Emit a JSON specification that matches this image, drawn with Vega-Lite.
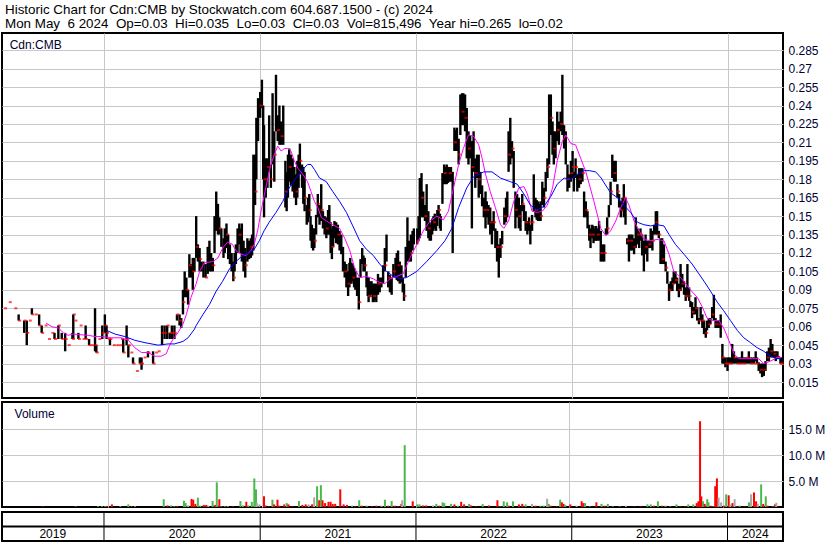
{
"$schema":"https://vega.github.io/schema/vega-lite/v6.json",
"padding":{"top":2,"left":0,"right":0,"bottom":0},
"background":"white",
"title":{"text":["Historic Chart for Cdn:CMB by Stockwatch.com 604.687.1500 - (c) 2024","Mon May\u00a0 6 2024\u00a0 Op=0.03\u00a0 Hi=0.035\u00a0 Lo=0.03\u00a0 Cl=0.03\u00a0 Vol=815,496\u00a0 Year hi=0.265\u00a0 lo=0.02"],"anchor":"start","frame":"group","font":"Liberation Sans","fontSize":13.4,"fontWeight":"normal","color":"#000000","lineHeight":14,"offset":2,"dx":3},
"spacing":2,
"vconcat":[
{
"width":781,"height":365,
"layer":[
{"data":{"format":{"parse":{"d":"date:'%Y-%j'"}},"values":[
{"d":"2019-133","lo":0.075,"hi":0.075,"c":0.075},{"d":"2019-144","lo":0.080,"hi":0.080,"c":0.080},{"d":"2019-157","lo":0.075,"hi":0.075,"c":0.075},{"d":"2019-166","lo":0.065,"hi":0.070,"c":0.065},{"d":"2019-179","lo":0.055,"hi":0.065,"c":0.065},{"d":"2019-185","lo":0.045,"hi":0.065,"c":0.055},{"d":"2019-191","lo":0.065,"hi":0.065,"c":0.065},{"d":"2019-197","lo":0.070,"hi":0.075,"c":0.070},{"d":"2019-205","lo":0.070,"hi":0.070,"c":0.070},{"d":"2019-214","lo":0.061,"hi":0.070,"c":0.061},{"d":"2019-220","lo":0.055,"hi":0.061,"c":0.055},{"d":"2019-228","lo":0.061,"hi":0.061,"c":0.061},{"d":"2019-236","lo":0.050,"hi":0.050,"c":0.050},{"d":"2019-244","lo":0.055,"hi":0.055,"c":0.055},{"d":"2019-250","lo":0.050,"hi":0.055,"c":0.050},{"d":"2019-259","lo":0.050,"hi":0.061,"c":0.061},{"d":"2019-267","lo":0.050,"hi":0.055,"c":0.050},{"d":"2019-275","lo":0.040,"hi":0.055,"c":0.050},{"d":"2019-282","lo":0.045,"hi":0.045,"c":0.045},{"d":"2019-292","lo":0.050,"hi":0.055,"c":0.050},{"d":"2019-294","lo":0.050,"hi":0.070,"c":0.070},{"d":"2019-298","lo":0.065,"hi":0.065,"c":0.065},{"d":"2019-306","lo":0.050,"hi":0.055,"c":0.050},{"d":"2019-310","lo":0.061,"hi":0.061,"c":0.061},{"d":"2019-317","lo":0.050,"hi":0.050,"c":0.050},{"d":"2019-323","lo":0.050,"hi":0.061,"c":0.050},{"d":"2019-331","lo":0.045,"hi":0.050,"c":0.045},{"d":"2019-337","lo":0.045,"hi":0.045,"c":0.045},{"d":"2019-345","lo":0.040,"hi":0.075,"c":0.045},{"d":"2019-348","lo":0.039,"hi":0.045,"c":0.039},{"d":"2019-354","lo":0.050,"hi":0.050,"c":0.050},{"d":"2019-362","lo":0.050,"hi":0.061,"c":0.055},
{"d":"2020-003","lo":0.055,"hi":0.070,"c":0.061},{"d":"2020-007","lo":0.050,"hi":0.061,"c":0.055},{"d":"2020-011","lo":0.050,"hi":0.050,"c":0.050},{"d":"2020-015","lo":0.045,"hi":0.050,"c":0.050},{"d":"2020-023","lo":0.045,"hi":0.045,"c":0.045},{"d":"2020-031","lo":0.045,"hi":0.045,"c":0.045},{"d":"2020-038","lo":0.045,"hi":0.045,"c":0.045},{"d":"2020-042","lo":0.050,"hi":0.050,"c":0.050},{"d":"2020-046","lo":0.039,"hi":0.050,"c":0.039},{"d":"2020-054","lo":0.045,"hi":0.061,"c":0.050},{"d":"2020-058","lo":0.035,"hi":0.045,"c":0.045},{"d":"2020-064","lo":0.039,"hi":0.039,"c":0.039},{"d":"2020-069","lo":0.030,"hi":0.035,"c":0.030},{"d":"2020-077","lo":0.024,"hi":0.024,"c":0.024},{"d":"2020-085","lo":0.030,"hi":0.035,"c":0.030},{"d":"2020-089","lo":0.025,"hi":0.035,"c":0.030},{"d":"2020-095","lo":0.035,"hi":0.035,"c":0.035},{"d":"2020-104","lo":0.035,"hi":0.040,"c":0.039},{"d":"2020-116","lo":0.030,"hi":0.040,"c":0.030},{"d":"2020-122","lo":0.039,"hi":0.039,"c":0.039},{"d":"2020-128","lo":0.040,"hi":0.040,"c":0.040},{"d":"2020-137","lo":0.045,"hi":0.061,"c":0.055},{"d":"2020-143","lo":0.050,"hi":0.061,"c":0.055},{"d":"2020-149","lo":0.050,"hi":0.061,"c":0.061},{"d":"2020-155","lo":0.050,"hi":0.055,"c":0.055},{"d":"2020-160","lo":0.050,"hi":0.061,"c":0.055},{"d":"2020-166","lo":0.050,"hi":0.061,"c":0.055},{"d":"2020-172","lo":0.065,"hi":0.070,"c":0.070},{"d":"2020-178","lo":0.061,"hi":0.070,"c":0.065},{"d":"2020-182","lo":0.059,"hi":0.067},{"d":"2020-186","lo":0.070,"hi":0.090,"c":0.080},{"d":"2020-190","lo":0.084,"hi":0.105},{"d":"2020-194","lo":0.084,"hi":0.100,"c":0.090},{"d":"2020-198","lo":0.078,"hi":0.090},{"d":"2020-201","lo":0.100,"hi":0.119,"c":0.110},{"d":"2020-205","lo":0.100,"hi":0.111},{"d":"2020-209","lo":0.090,"hi":0.116,"c":0.105},{"d":"2020-213","lo":0.105,"hi":0.116},{"d":"2020-217","lo":0.116,"hi":0.150,"c":0.125},{"d":"2020-221","lo":0.113,"hi":0.127},{"d":"2020-225","lo":0.105,"hi":0.124,"c":0.115},{"d":"2020-229","lo":0.105,"hi":0.113},{"d":"2020-234","lo":0.100,"hi":0.113},{"d":"2020-239","lo":0.100,"hi":0.111,"c":0.100},{"d":"2020-244","lo":0.103,"hi":0.125},{"d":"2020-248","lo":0.105,"hi":0.130},{"d":"2020-252","lo":0.105,"hi":0.120},{"d":"2020-256","lo":0.105,"hi":0.116,"c":0.110},{"d":"2020-260","lo":0.120,"hi":0.150},{"d":"2020-264","lo":0.138,"hi":0.170},{"d":"2020-268","lo":0.135,"hi":0.160},{"d":"2020-271","lo":0.135,"hi":0.149,"c":0.140},{"d":"2020-276","lo":0.125,"hi":0.140},{"d":"2020-281","lo":0.116,"hi":0.132},{"d":"2020-284","lo":0.120,"hi":0.140},{"d":"2020-288","lo":0.124,"hi":0.144,"c":0.135},{"d":"2020-292","lo":0.115,"hi":0.135},{"d":"2020-296","lo":0.111,"hi":0.127},{"d":"2020-300","lo":0.105,"hi":0.120},{"d":"2020-304","lo":0.097,"hi":0.113,"c":0.100},{"d":"2020-307","lo":0.105,"hi":0.120},{"d":"2020-310","lo":0.111,"hi":0.127},{"d":"2020-314","lo":0.120,"hi":0.140},{"d":"2020-318","lo":0.127,"hi":0.144,"c":0.135},{"d":"2020-321","lo":0.120,"hi":0.140},{"d":"2020-324","lo":0.113,"hi":0.144},{"d":"2020-328","lo":0.105,"hi":0.130},{"d":"2020-332","lo":0.100,"hi":0.124,"c":0.110},{"d":"2020-337","lo":0.113,"hi":0.132},{"d":"2020-341","lo":0.115,"hi":0.130},{"d":"2020-345","lo":0.116,"hi":0.132,"c":0.125},{"d":"2020-348","lo":0.118,"hi":0.135},{"d":"2020-351","lo":0.122,"hi":0.200},{"d":"2020-355","lo":0.159,"hi":0.200,"c":0.170},{"d":"2020-358","lo":0.180,"hi":0.230},{"d":"2020-362","lo":0.211,"hi":0.246},
{"d":"2021-001","lo":0.230,"hi":0.251,"c":0.240},{"d":"2021-005","lo":0.238,"hi":0.261},{"d":"2021-008","lo":0.180,"hi":0.240},{"d":"2021-010","lo":0.149,"hi":0.224,"c":0.180},{"d":"2021-014","lo":0.165,"hi":0.197},{"d":"2021-018","lo":0.173,"hi":0.197,"c":0.190},{"d":"2021-022","lo":0.186,"hi":0.232},{"d":"2021-026","lo":0.173,"hi":0.192,"c":0.180},{"d":"2021-030","lo":0.192,"hi":0.250},{"d":"2021-034","lo":0.178,"hi":0.219,"c":0.200},{"d":"2021-038","lo":0.219,"hi":0.265},{"d":"2021-042","lo":0.211,"hi":0.232,"c":0.220},{"d":"2021-046","lo":0.208,"hi":0.240},{"d":"2021-050","lo":0.208,"hi":0.227,"c":0.215},{"d":"2021-055","lo":0.208,"hi":0.240},{"d":"2021-060","lo":0.157,"hi":0.195,"c":0.170},{"d":"2021-063","lo":0.154,"hi":0.186},{"d":"2021-066","lo":0.165,"hi":0.200},{"d":"2021-069","lo":0.178,"hi":0.205,"c":0.190},{"d":"2021-073","lo":0.175,"hi":0.200},{"d":"2021-077","lo":0.170,"hi":0.197},{"d":"2021-081","lo":0.165,"hi":0.190},{"d":"2021-085","lo":0.159,"hi":0.184,"c":0.170},{"d":"2021-088","lo":0.165,"hi":0.195},{"d":"2021-091","lo":0.173,"hi":0.200},{"d":"2021-094","lo":0.184,"hi":0.209,"c":0.195},{"d":"2021-099","lo":0.173,"hi":0.192},{"d":"2021-102","lo":0.160,"hi":0.190},{"d":"2021-105","lo":0.154,"hi":0.186,"c":0.165},{"d":"2021-110","lo":0.143,"hi":0.159},{"d":"2021-113","lo":0.145,"hi":0.165},{"d":"2021-116","lo":0.149,"hi":0.168,"c":0.155},{"d":"2021-119","lo":0.130,"hi":0.150},{"d":"2021-122","lo":0.124,"hi":0.143},{"d":"2021-125","lo":0.122,"hi":0.140},{"d":"2021-128","lo":0.124,"hi":0.140,"c":0.130},{"d":"2021-132","lo":0.135,"hi":0.151},{"d":"2021-136","lo":0.149,"hi":0.168,"c":0.160},{"d":"2021-140","lo":0.143,"hi":0.159},{"d":"2021-144","lo":0.146,"hi":0.176,"c":0.155},{"d":"2021-148","lo":0.140,"hi":0.154},{"d":"2021-152","lo":0.135,"hi":0.150},{"d":"2021-156","lo":0.132,"hi":0.149,"c":0.140},{"d":"2021-160","lo":0.135,"hi":0.155},{"d":"2021-163","lo":0.135,"hi":0.159},{"d":"2021-166","lo":0.120,"hi":0.145},{"d":"2021-169","lo":0.115,"hi":0.140,"c":0.125},{"d":"2021-172","lo":0.125,"hi":0.142},{"d":"2021-175","lo":0.132,"hi":0.146},{"d":"2021-179","lo":0.128,"hi":0.145},{"d":"2021-183","lo":0.127,"hi":0.143,"c":0.135},{"d":"2021-187","lo":0.122,"hi":0.138},{"d":"2021-191","lo":0.119,"hi":0.135},{"d":"2021-195","lo":0.105,"hi":0.125},{"d":"2021-199","lo":0.100,"hi":0.113,"c":0.105},{"d":"2021-203","lo":0.092,"hi":0.111},{"d":"2021-207","lo":0.085,"hi":0.105,"c":0.095},{"d":"2021-210","lo":0.092,"hi":0.112},{"d":"2021-212","lo":0.095,"hi":0.116},{"d":"2021-215","lo":0.095,"hi":0.112},{"d":"2021-218","lo":0.097,"hi":0.111,"c":0.100},{"d":"2021-221","lo":0.092,"hi":0.108},{"d":"2021-224","lo":0.090,"hi":0.105},{"d":"2021-228","lo":0.085,"hi":0.100},{"d":"2021-232","lo":0.074,"hi":0.100,"c":0.080},{"d":"2021-236","lo":0.100,"hi":0.115},{"d":"2021-240","lo":0.111,"hi":0.124},{"d":"2021-243","lo":0.105,"hi":0.118},{"d":"2021-246","lo":0.105,"hi":0.116,"c":0.110},{"d":"2021-250","lo":0.092,"hi":0.105},{"d":"2021-253","lo":0.085,"hi":0.100},{"d":"2021-255","lo":0.080,"hi":0.100,"c":0.085},{"d":"2021-259","lo":0.084,"hi":0.097},{"d":"2021-262","lo":0.086,"hi":0.097},{"d":"2021-265","lo":0.080,"hi":0.095},{"d":"2021-267","lo":0.080,"hi":0.095,"c":0.085},{"d":"2021-270","lo":0.082,"hi":0.095},{"d":"2021-273","lo":0.080,"hi":0.095},{"d":"2021-277","lo":0.086,"hi":0.103,"c":0.095},{"d":"2021-281","lo":0.088,"hi":0.100},{"d":"2021-285","lo":0.092,"hi":0.100},{"d":"2021-289","lo":0.095,"hi":0.110},{"d":"2021-293","lo":0.105,"hi":0.124,"c":0.110},{"d":"2021-297","lo":0.113,"hi":0.135},{"d":"2021-301","lo":0.092,"hi":0.105,"c":0.100},{"d":"2021-305","lo":0.088,"hi":0.102},{"d":"2021-309","lo":0.086,"hi":0.100},{"d":"2021-313","lo":0.100,"hi":0.111,"c":0.105},{"d":"2021-318","lo":0.100,"hi":0.116},{"d":"2021-321","lo":0.098,"hi":0.120},{"d":"2021-324","lo":0.097,"hi":0.122,"c":0.110},{"d":"2021-328","lo":0.095,"hi":0.113},{"d":"2021-332","lo":0.096,"hi":0.110},{"d":"2021-335","lo":0.088,"hi":0.100},{"d":"2021-338","lo":0.081,"hi":0.095,"c":0.085},{"d":"2021-342","lo":0.100,"hi":0.125},{"d":"2021-346","lo":0.113,"hi":0.149},{"d":"2021-350","lo":0.113,"hi":0.130},{"d":"2021-354","lo":0.113,"hi":0.135,"c":0.120},{"d":"2021-358","lo":0.122,"hi":0.138},{"d":"2021-361","lo":0.127,"hi":0.140},
{"d":"2022-004","lo":0.127,"hi":0.140,"c":0.130},{"d":"2022-007","lo":0.130,"hi":0.150},{"d":"2022-010","lo":0.132,"hi":0.181},{"d":"2022-014","lo":0.149,"hi":0.185,"c":0.165},{"d":"2022-018","lo":0.149,"hi":0.170},{"d":"2022-022","lo":0.146,"hi":0.159,"c":0.150},{"d":"2022-026","lo":0.138,"hi":0.176},{"d":"2022-030","lo":0.132,"hi":0.154,"c":0.140},{"d":"2022-033","lo":0.130,"hi":0.145},{"d":"2022-036","lo":0.130,"hi":0.143},{"d":"2022-039","lo":0.135,"hi":0.148},{"d":"2022-042","lo":0.138,"hi":0.150,"c":0.145},{"d":"2022-045","lo":0.140,"hi":0.152},{"d":"2022-048","lo":0.138,"hi":0.150},{"d":"2022-051","lo":0.142,"hi":0.155},{"d":"2022-054","lo":0.149,"hi":0.159,"c":0.155},{"d":"2022-057","lo":0.140,"hi":0.152},{"d":"2022-059","lo":0.138,"hi":0.150},{"d":"2022-063","lo":0.160,"hi":0.185},{"d":"2022-067","lo":0.176,"hi":0.192,"c":0.185},{"d":"2022-070","lo":0.176,"hi":0.190},{"d":"2022-073","lo":0.176,"hi":0.192},{"d":"2022-076","lo":0.177,"hi":0.190},{"d":"2022-079","lo":0.178,"hi":0.190,"c":0.185},{"d":"2022-083","lo":0.178,"hi":0.190},{"d":"2022-087","lo":0.120,"hi":0.186},{"d":"2022-091","lo":0.203,"hi":0.222,"c":0.210},{"d":"2022-094","lo":0.203,"hi":0.220},{"d":"2022-097","lo":0.203,"hi":0.222},{"d":"2022-101","lo":0.192,"hi":0.213,"c":0.200},{"d":"2022-105","lo":0.216,"hi":0.249},{"d":"2022-109","lo":0.224,"hi":0.250,"c":0.235},{"d":"2022-112","lo":0.224,"hi":0.250},{"d":"2022-116","lo":0.219,"hi":0.249,"c":0.230},{"d":"2022-120","lo":0.197,"hi":0.238},{"d":"2022-124","lo":0.192,"hi":0.219,"c":0.205},{"d":"2022-128","lo":0.197,"hi":0.216},{"d":"2022-132","lo":0.140,"hi":0.211,"c":0.190},{"d":"2022-136","lo":0.186,"hi":0.219},{"d":"2022-140","lo":0.173,"hi":0.197,"c":0.185},{"d":"2022-144","lo":0.181,"hi":0.200},{"d":"2022-148","lo":0.165,"hi":0.200,"c":0.180},{"d":"2022-152","lo":0.168,"hi":0.186},{"d":"2022-156","lo":0.158,"hi":0.175},{"d":"2022-160","lo":0.149,"hi":0.165,"c":0.155},{"d":"2022-164","lo":0.140,"hi":0.170},{"d":"2022-167","lo":0.149,"hi":0.162,"c":0.155},{"d":"2022-171","lo":0.143,"hi":0.159},{"d":"2022-175","lo":0.135,"hi":0.157,"c":0.145},{"d":"2022-179","lo":0.127,"hi":0.146},{"d":"2022-183","lo":0.138,"hi":0.154,"c":0.145},{"d":"2022-187","lo":0.124,"hi":0.140},{"d":"2022-191","lo":0.113,"hi":0.138,"c":0.125},{"d":"2022-195","lo":0.100,"hi":0.127},{"d":"2022-199","lo":0.116,"hi":0.132,"c":0.125},{"d":"2022-203","lo":0.127,"hi":0.138},{"d":"2022-208","lo":0.143,"hi":0.157,"c":0.150},{"d":"2022-212","lo":0.145,"hi":0.165},{"d":"2022-215","lo":0.149,"hi":0.170},{"d":"2022-218","lo":0.186,"hi":0.219,"c":0.200},{"d":"2022-222","lo":0.192,"hi":0.230},{"d":"2022-226","lo":0.197,"hi":0.211,"c":0.205},{"d":"2022-230","lo":0.173,"hi":0.203},{"d":"2022-234","lo":0.140,"hi":0.170,"c":0.155},{"d":"2022-238","lo":0.149,"hi":0.168},{"d":"2022-242","lo":0.140,"hi":0.165,"c":0.150},{"d":"2022-246","lo":0.138,"hi":0.159},{"d":"2022-250","lo":0.154,"hi":0.168,"c":0.160},{"d":"2022-254","lo":0.146,"hi":0.159},{"d":"2022-258","lo":0.138,"hi":0.154,"c":0.145},{"d":"2022-262","lo":0.135,"hi":0.146},{"d":"2022-266","lo":0.138,"hi":0.149,"c":0.145},{"d":"2022-269","lo":0.127,"hi":0.143},{"d":"2022-273","lo":0.138,"hi":0.151,"c":0.145},{"d":"2022-277","lo":0.154,"hi":0.184},{"d":"2022-281","lo":0.149,"hi":0.165,"c":0.155},{"d":"2022-284","lo":0.147,"hi":0.163},{"d":"2022-287","lo":0.146,"hi":0.162},{"d":"2022-290","lo":0.146,"hi":0.160},{"d":"2022-293","lo":0.146,"hi":0.162,"c":0.150},{"d":"2022-297","lo":0.159,"hi":0.178},{"d":"2022-301","lo":0.157,"hi":0.173,"c":0.165},{"d":"2022-305","lo":0.170,"hi":0.186},{"d":"2022-309","lo":0.181,"hi":0.197,"c":0.190},{"d":"2022-313","lo":0.192,"hi":0.249},{"d":"2022-317","lo":0.216,"hi":0.249,"c":0.230},{"d":"2022-321","lo":0.200,"hi":0.227},{"d":"2022-324","lo":0.192,"hi":0.219,"c":0.205},{"d":"2022-328","lo":0.197,"hi":0.219},{"d":"2022-332","lo":0.211,"hi":0.235,"c":0.220},{"d":"2022-336","lo":0.208,"hi":0.227},{"d":"2022-340","lo":0.219,"hi":0.235,"c":0.225},{"d":"2022-344","lo":0.216,"hi":0.265},{"d":"2022-348","lo":0.205,"hi":0.224,"c":0.215},{"d":"2022-352","lo":0.192,"hi":0.219},{"d":"2022-356","lo":0.170,"hi":0.192,"c":0.180},{"d":"2022-360","lo":0.173,"hi":0.184},{"d":"2022-364","lo":0.178,"hi":0.195,"c":0.185},
{"d":"2023-003","lo":0.181,"hi":0.203,"c":0.190},{"d":"2023-006","lo":0.170,"hi":0.186},{"d":"2023-010","lo":0.181,"hi":0.197,"c":0.190},{"d":"2023-014","lo":0.170,"hi":0.184},{"d":"2023-018","lo":0.173,"hi":0.189,"c":0.180},{"d":"2023-022","lo":0.176,"hi":0.189},{"d":"2023-026","lo":0.178,"hi":0.189,"c":0.185},{"d":"2023-030","lo":0.149,"hi":0.170},{"d":"2023-034","lo":0.149,"hi":0.162,"c":0.155},{"d":"2023-038","lo":0.140,"hi":0.154},{"d":"2023-042","lo":0.130,"hi":0.143,"c":0.135},{"d":"2023-045","lo":0.124,"hi":0.140},{"d":"2023-049","lo":0.132,"hi":0.143,"c":0.135},{"d":"2023-052","lo":0.128,"hi":0.142},{"d":"2023-055","lo":0.130,"hi":0.140},{"d":"2023-058","lo":0.130,"hi":0.142},{"d":"2023-061","lo":0.130,"hi":0.140,"c":0.135},{"d":"2023-065","lo":0.130,"hi":0.146},{"d":"2023-069","lo":0.113,"hi":0.138,"c":0.120},{"d":"2023-073","lo":0.113,"hi":0.127},{"d":"2023-077","lo":0.113,"hi":0.127,"c":0.120},{"d":"2023-081","lo":0.135,"hi":0.140},{"d":"2023-084","lo":0.135,"hi":0.149,"c":0.140},{"d":"2023-088","lo":0.149,"hi":0.159},{"d":"2023-092","lo":0.159,"hi":0.178,"c":0.170},{"d":"2023-096","lo":0.181,"hi":0.200},{"d":"2023-100","lo":0.178,"hi":0.195,"c":0.185},{"d":"2023-104","lo":0.178,"hi":0.195},{"d":"2023-108","lo":0.165,"hi":0.176,"c":0.170},{"d":"2023-112","lo":0.157,"hi":0.168},{"d":"2023-116","lo":0.149,"hi":0.162,"c":0.155},{"d":"2023-120","lo":0.154,"hi":0.165},{"d":"2023-123","lo":0.149,"hi":0.176,"c":0.165},{"d":"2023-127","lo":0.143,"hi":0.165},{"d":"2023-131","lo":0.127,"hi":0.132,"c":0.130},{"d":"2023-135","lo":0.113,"hi":0.135},{"d":"2023-139","lo":0.122,"hi":0.135,"c":0.130},{"d":"2023-143","lo":0.122,"hi":0.135},{"d":"2023-147","lo":0.119,"hi":0.132,"c":0.125},{"d":"2023-151","lo":0.124,"hi":0.149},{"d":"2023-155","lo":0.127,"hi":0.140,"c":0.135},{"d":"2023-159","lo":0.124,"hi":0.138},{"d":"2023-162","lo":0.130,"hi":0.140,"c":0.135},{"d":"2023-166","lo":0.118,"hi":0.135},{"d":"2023-170","lo":0.105,"hi":0.130},{"d":"2023-174","lo":0.119,"hi":0.135,"c":0.125},{"d":"2023-178","lo":0.113,"hi":0.130},{"d":"2023-182","lo":0.124,"hi":0.130,"c":0.127},{"d":"2023-186","lo":0.124,"hi":0.140},{"d":"2023-190","lo":0.122,"hi":0.138,"c":0.130},{"d":"2023-194","lo":0.135,"hi":0.143},{"d":"2023-198","lo":0.135,"hi":0.154,"c":0.145},{"d":"2023-201","lo":0.135,"hi":0.154},{"d":"2023-205","lo":0.132,"hi":0.138,"c":0.135},{"d":"2023-209","lo":0.111,"hi":0.132},{"d":"2023-213","lo":0.111,"hi":0.132,"c":0.115},{"d":"2023-217","lo":0.111,"hi":0.127},{"d":"2023-221","lo":0.105,"hi":0.113,"c":0.108},{"d":"2023-225","lo":0.095,"hi":0.105},{"d":"2023-229","lo":0.081,"hi":0.095,"c":0.090},{"d":"2023-233","lo":0.089,"hi":0.097},{"d":"2023-237","lo":0.089,"hi":0.100,"c":0.095},{"d":"2023-240","lo":0.095,"hi":0.105},{"d":"2023-244","lo":0.095,"hi":0.105,"c":0.098},{"d":"2023-248","lo":0.089,"hi":0.100},{"d":"2023-252","lo":0.084,"hi":0.095,"c":0.090},{"d":"2023-256","lo":0.089,"hi":0.111},{"d":"2023-260","lo":0.092,"hi":0.103,"c":0.095},{"d":"2023-264","lo":0.086,"hi":0.097},{"d":"2023-268","lo":0.081,"hi":0.092,"c":0.085},{"d":"2023-272","lo":0.084,"hi":0.111},{"d":"2023-276","lo":0.081,"hi":0.092,"c":0.085},{"d":"2023-279","lo":0.076,"hi":0.081},{"d":"2023-283","lo":0.067,"hi":0.080,"c":0.072},{"d":"2023-287","lo":0.070,"hi":0.076},{"d":"2023-291","lo":0.070,"hi":0.084,"c":0.075},{"d":"2023-295","lo":0.065,"hi":0.076},{"d":"2023-299","lo":0.062,"hi":0.067,"c":0.065},{"d":"2023-303","lo":0.065,"hi":0.076},{"d":"2023-307","lo":0.059,"hi":0.070,"c":0.065},{"d":"2023-311","lo":0.054,"hi":0.065},{"d":"2023-315","lo":0.051,"hi":0.059,"c":0.055},{"d":"2023-318","lo":0.057,"hi":0.065},{"d":"2023-322","lo":0.059,"hi":0.067,"c":0.062},{"d":"2023-326","lo":0.062,"hi":0.067},{"d":"2023-330","lo":0.067,"hi":0.076,"c":0.070},{"d":"2023-334","lo":0.065,"hi":0.086},{"d":"2023-338","lo":0.059,"hi":0.067,"c":0.062},{"d":"2023-342","lo":0.059,"hi":0.065},{"d":"2023-346","lo":0.059,"hi":0.065,"c":0.062},{"d":"2023-350","lo":0.051,"hi":0.070},{"d":"2023-354","lo":0.030,"hi":0.046,"c":0.035},{"d":"2023-357","lo":0.030,"hi":0.035},{"d":"2023-361","lo":0.027,"hi":0.035,"c":0.030},
{"d":"2024-001","lo":0.024,"hi":0.035,"c":0.030},{"d":"2024-004","lo":0.030,"hi":0.035},{"d":"2024-008","lo":0.030,"hi":0.035,"c":0.030},{"d":"2024-012","lo":0.030,"hi":0.046},{"d":"2024-016","lo":0.030,"hi":0.040,"c":0.035},{"d":"2024-020","lo":0.030,"hi":0.035},{"d":"2024-024","lo":0.030,"hi":0.035,"c":0.030},{"d":"2024-028","lo":0.030,"hi":0.035},{"d":"2024-031","lo":0.030,"hi":0.035,"c":0.030},{"d":"2024-035","lo":0.030,"hi":0.040},{"d":"2024-039","lo":0.030,"hi":0.035,"c":0.030},{"d":"2024-043","lo":0.030,"hi":0.035},{"d":"2024-047","lo":0.030,"hi":0.035,"c":0.035},{"d":"2024-051","lo":0.030,"hi":0.040},{"d":"2024-055","lo":0.030,"hi":0.035,"c":0.030},{"d":"2024-059","lo":0.030,"hi":0.035},{"d":"2024-063","lo":0.030,"hi":0.035,"c":0.030},{"d":"2024-067","lo":0.032,"hi":0.040},{"d":"2024-070","lo":0.030,"hi":0.035,"c":0.030},{"d":"2024-074","lo":0.024,"hi":0.031},{"d":"2024-078","lo":0.022,"hi":0.030,"c":0.025},{"d":"2024-082","lo":0.019,"hi":0.030},{"d":"2024-086","lo":0.020,"hi":0.030,"c":0.025},{"d":"2024-090","lo":0.024,"hi":0.032},{"d":"2024-094","lo":0.032,"hi":0.040,"c":0.035},{"d":"2024-098","lo":0.032,"hi":0.043},{"d":"2024-102","lo":0.035,"hi":0.050,"c":0.040},{"d":"2024-106","lo":0.035,"hi":0.046},{"d":"2024-110","lo":0.035,"hi":0.040,"c":0.038},{"d":"2024-114","lo":0.032,"hi":0.040},{"d":"2024-118","lo":0.034,"hi":0.040,"c":0.035},{"d":"2024-121","lo":0.034,"hi":0.036},{"d":"2024-125","lo":0.030,"hi":0.035,"c":0.030},{"d":"2024-127","lo":0.030,"hi":0.035,"c":0.030}
]},
"layer":[
{"mark":{"type":"rule","color":"#000000","strokeWidth":2.4},
"encoding":{
"x":{"field":"d","type":"temporal","scale":{"domain":[{"year":2019,"month":5,"date":7},{"year":2024,"month":5,"date":10}]},"axis":{"orient":"bottom","labels":false,"ticks":false,"domain":false,"grid":true,"title":null,"tickCount":{"interval":"year","step":1}}},
"y":{"field":"lo","type":"quantitative","scale":{"domain":[0.0020,0.299],"nice":false,"zero":false},"axis":{"orient":"right","values":[0.015,0.03,0.045,0.06,0.075,0.09,0.105,0.12,0.135,0.15,0.165,0.18,0.195,0.21,0.225,0.24,0.255,0.27,0.285],"tickCount":40,"labelExpr":"format(datum.value,'~g')","labelOverlap":false,"labelBound":false,"grid":true,"title":null,"labelPadding":5}},
"y2":{"field":"hi"}}},
{"mark":{"type":"tick","color":"#ff0000","orient":"horizontal","size":3,"thickness":2,"xOffset":1},
"encoding":{"x":{"field":"d","type":"temporal"},"y":{"field":"c","type":"quantitative"}}}
]},
{"data":{"format":{"parse":{"d":"date:'%Y-%j'"}},"values":[
{"d":"2019-230","v":0.063},{"d":"2019-244","v":0.060},{"d":"2019-259","v":0.059},{"d":"2019-271","v":0.055},{"d":"2019-282","v":0.053},{"d":"2019-294","v":0.054},{"d":"2019-329","v":0.053},{"d":"2019-345","v":0.052},{"d":"2019-360","v":0.052},{"d":"2020-019","v":0.051},{"d":"2020-042","v":0.051},{"d":"2020-058","v":0.049},{"d":"2020-073","v":0.043},{"d":"2020-089","v":0.039},{"d":"2020-104","v":0.039},{"d":"2020-120","v":0.036},{"d":"2020-135","v":0.036},{"d":"2020-147","v":0.038},{"d":"2020-155","v":0.045},{"d":"2020-163","v":0.050},{"d":"2020-174","v":0.055},{"d":"2020-186","v":0.062},{"d":"2020-194","v":0.070},{"d":"2020-205","v":0.084},{"d":"2020-217","v":0.095},{"d":"2020-225","v":0.105},{"d":"2020-236","v":0.112},{"d":"2020-256","v":0.113},{"d":"2020-268","v":0.116},{"d":"2020-279","v":0.124},{"d":"2020-291","v":0.129},{"d":"2020-302","v":0.127},{"d":"2020-310","v":0.122},{"d":"2020-322","v":0.119},{"d":"2020-334","v":0.118},{"d":"2020-345","v":0.122},{"d":"2020-353","v":0.127},{"d":"2020-361","v":0.138},{"d":"2021-003","v":0.154},{"d":"2021-014","v":0.173},{"d":"2021-026","v":0.192},{"d":"2021-034","v":0.200},{"d":"2021-042","v":0.207},{"d":"2021-050","v":0.203},{"d":"2021-058","v":0.205},{"d":"2021-065","v":0.205},{"d":"2021-073","v":0.203},{"d":"2021-081","v":0.195},{"d":"2021-089","v":0.189},{"d":"2021-101","v":0.184},{"d":"2021-112","v":0.178},{"d":"2021-120","v":0.170},{"d":"2021-128","v":0.162},{"d":"2021-136","v":0.157},{"d":"2021-144","v":0.149},{"d":"2021-156","v":0.146},{"d":"2021-171","v":0.143},{"d":"2021-187","v":0.140},{"d":"2021-199","v":0.132},{"d":"2021-211","v":0.122},{"d":"2021-222","v":0.108},{"d":"2021-234","v":0.100},{"d":"2021-250","v":0.101},{"d":"2021-266","v":0.099},{"d":"2021-281","v":0.096},{"d":"2021-293","v":0.095},{"d":"2021-305","v":0.099},{"d":"2021-321","v":0.101},{"d":"2021-336","v":0.103},{"d":"2021-352","v":0.116},{"d":"2022-003","v":0.127},{"d":"2022-018","v":0.138},{"d":"2022-034","v":0.146},{"d":"2022-050","v":0.150},{"d":"2022-065","v":0.147},{"d":"2022-077","v":0.154},{"d":"2022-089","v":0.173},{"d":"2022-101","v":0.192},{"d":"2022-112","v":0.205},{"d":"2022-124","v":0.216},{"d":"2022-136","v":0.215},{"d":"2022-148","v":0.208},{"d":"2022-156","v":0.197},{"d":"2022-164","v":0.184},{"d":"2022-175","v":0.170},{"d":"2022-187","v":0.157},{"d":"2022-199","v":0.143},{"d":"2022-207","v":0.140},{"d":"2022-218","v":0.146},{"d":"2022-230","v":0.162},{"d":"2022-242","v":0.173},{"d":"2022-254","v":0.174},{"d":"2022-262","v":0.168},{"d":"2022-273","v":0.154},{"d":"2022-285","v":0.153},{"d":"2022-297","v":0.154},{"d":"2022-309","v":0.159},{"d":"2022-321","v":0.173},{"d":"2022-332","v":0.195},{"d":"2022-344","v":0.211},{"d":"2022-352","v":0.216},{"d":"2022-364","v":0.209},{"d":"2023-010","v":0.208},{"d":"2023-022","v":0.197},{"d":"2023-034","v":0.186},{"d":"2023-042","v":0.176},{"d":"2023-053","v":0.162},{"d":"2023-061","v":0.151},{"d":"2023-069","v":0.140},{"d":"2023-081","v":0.134},{"d":"2023-092","v":0.138},{"d":"2023-104","v":0.146},{"d":"2023-116","v":0.157},{"d":"2023-127","v":0.165},{"d":"2023-135","v":0.159},{"d":"2023-147","v":0.146},{"d":"2023-159","v":0.138},{"d":"2023-170","v":0.131},{"d":"2023-186","v":0.130},{"d":"2023-201","v":0.131},{"d":"2023-217","v":0.130},{"d":"2023-229","v":0.119},{"d":"2023-240","v":0.105},{"d":"2023-256","v":0.100},{"d":"2023-268","v":0.095},{"d":"2023-279","v":0.090},{"d":"2023-295","v":0.084},{"d":"2023-307","v":0.076},{"d":"2023-318","v":0.067},{"d":"2023-330","v":0.065},{"d":"2023-346","v":0.065},{"d":"2023-357","v":0.059},{"d":"2024-004","v":0.049},{"d":"2024-016","v":0.038},{"d":"2024-028","v":0.034},{"d":"2024-043","v":0.034},{"d":"2024-059","v":0.034},{"d":"2024-074","v":0.034},{"d":"2024-086","v":0.030},{"d":"2024-102","v":0.032},{"d":"2024-117","v":0.035},{"d":"2024-127","v":0.035}
]},
"mark":{"type":"line","color":"#ff00ff","strokeWidth":1},
"encoding":{"x":{"field":"d","type":"temporal"},"y":{"field":"v","type":"quantitative"}}},
{"data":{"format":{"parse":{"d":"date:'%Y-%j'"}},"values":[
{"d":"2020-007","v":0.057},{"d":"2020-027","v":0.054},{"d":"2020-050","v":0.052},{"d":"2020-073","v":0.049},{"d":"2020-097","v":0.047},{"d":"2020-128","v":0.045},{"d":"2020-151","v":0.046},{"d":"2020-166","v":0.046},{"d":"2020-186","v":0.048},{"d":"2020-198","v":0.051},{"d":"2020-213","v":0.058},{"d":"2020-217","v":0.061},{"d":"2020-233","v":0.070},{"d":"2020-248","v":0.078},{"d":"2020-264","v":0.089},{"d":"2020-279","v":0.097},{"d":"2020-295","v":0.107},{"d":"2020-310","v":0.113},{"d":"2020-326","v":0.118},{"d":"2020-341","v":0.120},{"d":"2020-353","v":0.123},{"d":"2020-365","v":0.130},{"d":"2021-010","v":0.138},{"d":"2021-022","v":0.145},{"d":"2021-038","v":0.153},{"d":"2021-054","v":0.162},{"d":"2021-069","v":0.173},{"d":"2021-085","v":0.181},{"d":"2021-101","v":0.188},{"d":"2021-112","v":0.192},{"d":"2021-120","v":0.192},{"d":"2021-128","v":0.188},{"d":"2021-140","v":0.181},{"d":"2021-156","v":0.178},{"d":"2021-171","v":0.170},{"d":"2021-187","v":0.162},{"d":"2021-203","v":0.153},{"d":"2021-218","v":0.142},{"d":"2021-234","v":0.130},{"d":"2021-250","v":0.123},{"d":"2021-266","v":0.118},{"d":"2021-281","v":0.111},{"d":"2021-297","v":0.105},{"d":"2021-313","v":0.101},{"d":"2021-330","v":0.099},{"d":"2021-344","v":0.100},{"d":"2022-003","v":0.105},{"d":"2022-026","v":0.113},{"d":"2022-050","v":0.122},{"d":"2022-069","v":0.130},{"d":"2022-085","v":0.140},{"d":"2022-101","v":0.157},{"d":"2022-120","v":0.173},{"d":"2022-136","v":0.182},{"d":"2022-160","v":0.186},{"d":"2022-179","v":0.186},{"d":"2022-199","v":0.181},{"d":"2022-222","v":0.178},{"d":"2022-238","v":0.176},{"d":"2022-254","v":0.168},{"d":"2022-269","v":0.159},{"d":"2022-285","v":0.155},{"d":"2022-301","v":0.158},{"d":"2022-317","v":0.166},{"d":"2022-332","v":0.176},{"d":"2022-348","v":0.181},{"d":"2022-364","v":0.180},{"d":"2023-014","v":0.184},{"d":"2023-030","v":0.187},{"d":"2023-042","v":0.187},{"d":"2023-057","v":0.186},{"d":"2023-070","v":0.181},{"d":"2023-077","v":0.177},{"d":"2023-092","v":0.169},{"d":"2023-108","v":0.165},{"d":"2023-123","v":0.159},{"d":"2023-139","v":0.153},{"d":"2023-155","v":0.145},{"d":"2023-170","v":0.143},{"d":"2023-186","v":0.142},{"d":"2023-201","v":0.143},{"d":"2023-217","v":0.142},{"d":"2023-229","v":0.135},{"d":"2023-244","v":0.127},{"d":"2023-264","v":0.119},{"d":"2023-283","v":0.111},{"d":"2023-299","v":0.103},{"d":"2023-311","v":0.097},{"d":"2023-326","v":0.089},{"d":"2023-342","v":0.080},{"d":"2023-357","v":0.073},{"d":"2024-008","v":0.065},{"d":"2024-024","v":0.057},{"d":"2024-039","v":0.051},{"d":"2024-055","v":0.047},{"d":"2024-070","v":0.043},{"d":"2024-086","v":0.040},{"d":"2024-102","v":0.036},{"d":"2024-117","v":0.034},{"d":"2024-127","v":0.034}
]},
"mark":{"type":"line","color":"#0000ff","strokeWidth":1},
"encoding":{"x":{"field":"d","type":"temporal"},"y":{"field":"v","type":"quantitative"}}},
{"data":{"values":[{"label":"Cdn:CMB"}]},
"mark":{"type":"text","align":"left","baseline":"middle","fontSize":12,"color":"#000033","font":"Liberation Sans"},
"encoding":{"x":{"datum":{"year":2019,"month":5,"date":25},"type":"temporal"},"y":{"datum":0.289,"type":"quantitative"},"text":{"field":"label","type":"nominal"}}}
]
},
{
"width":781,"height":105,
"layer":[
{"data":{"format":{"parse":{"d":"date:'%Y-%j'"}},"values":[
{"d":"2019-212","vm":0.1,"k":"d"},{"d":"2019-290","vm":0.1,"k":"u"},{"d":"2019-343","vm":0.15,"k":"u"},{"d":"2019-352","vm":0.15,"k":"f"},{"d":"2019-360","vm":0.15,"k":"u"},{"d":"2019-364","vm":0.15,"k":"d"},
{"d":"2020-011","vm":0.5,"k":"d"},{"d":"2020-031","vm":0.15,"k":"f"},{"d":"2020-050","vm":0.5,"k":"u"},{"d":"2020-058","vm":0.15,"k":"d"},{"d":"2020-066","vm":0.15,"k":"f"},{"d":"2020-134","vm":1.5,"k":"u"},{"d":"2020-143","vm":0.3,"k":"d"},{"d":"2020-151","vm":0.3,"k":"u"},{"d":"2020-159","vm":0.15,"k":"u"},{"d":"2020-166","vm":0.15,"k":"d"},{"d":"2020-182","vm":1.2,"k":"u"},{"d":"2020-186","vm":0.75,"k":"u"},{"d":"2020-192","vm":0.3,"k":"f"},{"d":"2020-200","vm":1.55,"k":"d"},{"d":"2020-204","vm":1.4,"k":"d"},{"d":"2020-209","vm":0.6,"k":"d"},{"d":"2020-215","vm":1.8,"k":"u"},{"d":"2020-221","vm":0.25,"k":"u"},{"d":"2020-229","vm":0.4,"k":"d"},{"d":"2020-235","vm":0.4,"k":"d"},{"d":"2020-240","vm":0.25,"k":"f"},{"d":"2020-250","vm":1.15,"k":"u"},{"d":"2020-256","vm":0.4,"k":"d"},{"d":"2020-260","vm":4.75,"k":"u"},{"d":"2020-266","vm":1.5,"k":"d"},{"d":"2020-271","vm":0.1,"k":"f"},{"d":"2020-279","vm":0.15,"k":"u"},{"d":"2020-286","vm":0.15,"k":"f"},{"d":"2020-298","vm":0.1,"k":"d"},{"d":"2020-316","vm":1.15,"k":"u"},{"d":"2020-322","vm":0.3,"k":"u"},{"d":"2020-330","vm":1.0,"k":"d"},{"d":"2020-335","vm":0.3,"k":"u"},{"d":"2020-343","vm":1.0,"k":"u"},{"d":"2020-349","vm":5.5,"k":"u"},{"d":"2020-353","vm":3.4,"k":"u"},{"d":"2020-355","vm":0.75,"k":"f"},{"d":"2020-361","vm":0.5,"k":"f"},
{"d":"2021-006","vm":2.05,"k":"d"},{"d":"2021-010","vm":0.3,"k":"d"},{"d":"2021-018","vm":0.1,"k":"d"},{"d":"2021-026","vm":1.4,"k":"u"},{"d":"2021-030","vm":0.5,"k":"d"},{"d":"2021-038","vm":1.4,"k":"d"},{"d":"2021-043","vm":0.25,"k":"d"},{"d":"2021-054","vm":0.5,"k":"d"},{"d":"2021-060","vm":0.75,"k":"u"},{"d":"2021-064","vm":0.5,"k":"d"},{"d":"2021-073","vm":0.1,"k":"d"},{"d":"2021-089","vm":1.15,"k":"u"},{"d":"2021-097","vm":0.4,"k":"d"},{"d":"2021-105","vm":0.5,"k":"d"},{"d":"2021-112","vm":0.5,"k":"f"},{"d":"2021-120","vm":0.5,"k":"d"},{"d":"2021-125","vm":1.85,"k":"f"},{"d":"2021-132","vm":4.0,"k":"u"},{"d":"2021-137","vm":1.3,"k":"d"},{"d":"2021-141","vm":4.2,"k":"u"},{"d":"2021-145","vm":1.3,"k":"d"},{"d":"2021-151","vm":0.75,"k":"d"},{"d":"2021-159","vm":1.0,"k":"d"},{"d":"2021-164","vm":1.0,"k":"d"},{"d":"2021-169","vm":0.6,"k":"d"},{"d":"2021-175","vm":0.6,"k":"d"},{"d":"2021-187","vm":3.4,"k":"d"},{"d":"2021-195","vm":0.5,"k":"d"},{"d":"2021-203","vm":0.4,"k":"d"},{"d":"2021-215","vm":0.25,"k":"u"},{"d":"2021-222","vm":0.1,"k":"d"},{"d":"2021-232","vm":1.3,"k":"u"},{"d":"2021-238","vm":0.25,"k":"d"},{"d":"2021-250","vm":0.25,"k":"u"},{"d":"2021-262","vm":0.1,"k":"d"},{"d":"2021-273","vm":0.25,"k":"d"},{"d":"2021-285","vm":0.25,"k":"f"},{"d":"2021-293","vm":1.4,"k":"u"},{"d":"2021-301","vm":0.25,"k":"d"},{"d":"2021-309","vm":1.15,"k":"u"},{"d":"2021-316","vm":0.25,"k":"d"},{"d":"2021-324","vm":0.1,"k":"d"},{"d":"2021-332","vm":0.6,"k":"d"},{"d":"2021-334","vm":1.3,"k":"f"},{"d":"2021-340","vm":11.9,"k":"u"},{"d":"2021-359","vm":1.1,"k":"d"},
{"d":"2022-005","vm":0.5,"k":"u"},{"d":"2022-010","vm":0.5,"k":"u"},{"d":"2022-018","vm":0.3,"k":"d"},{"d":"2022-026","vm":0.3,"k":"d"},{"d":"2022-042","vm":0.3,"k":"f"},{"d":"2022-050","vm":0.6,"k":"u"},{"d":"2022-057","vm":0.25,"k":"d"},{"d":"2022-065","vm":0.9,"k":"u"},{"d":"2022-069","vm":0.75,"k":"u"},{"d":"2022-085","vm":0.6,"k":"u"},{"d":"2022-093","vm":0.5,"k":"d"},{"d":"2022-101","vm":0.25,"k":"u"},{"d":"2022-109","vm":1.0,"k":"d"},{"d":"2022-116","vm":0.5,"k":"d"},{"d":"2022-128","vm":0.6,"k":"u"},{"d":"2022-132","vm":0.3,"k":"d"},{"d":"2022-144","vm":0.1,"k":"d"},{"d":"2022-160","vm":0.55,"k":"u"},{"d":"2022-175","vm":0.3,"k":"d"},{"d":"2022-195","vm":1.3,"k":"d"},{"d":"2022-202","vm":0.1,"k":"u"},{"d":"2022-210","vm":1.1,"k":"u"},{"d":"2022-218","vm":0.9,"k":"u"},{"d":"2022-222","vm":0.25,"k":"d"},{"d":"2022-232","vm":1.1,"k":"u"},{"d":"2022-246","vm":0.5,"k":"d"},{"d":"2022-254","vm":0.6,"k":"d"},{"d":"2022-262","vm":0.5,"k":"u"},{"d":"2022-277","vm":0.6,"k":"f"},{"d":"2022-285","vm":0.25,"k":"d"},{"d":"2022-297","vm":0.25,"k":"u"},{"d":"2022-305","vm":0.25,"k":"u"},{"d":"2022-313","vm":1.6,"k":"f"},{"d":"2022-317","vm":0.6,"k":"u"},{"d":"2022-321","vm":0.25,"k":"d"},{"d":"2022-336","vm":0.1,"k":"d"},{"d":"2022-344","vm":1.4,"k":"u"},{"d":"2022-348","vm":0.9,"k":"d"},{"d":"2022-352","vm":0.6,"k":"d"},{"d":"2022-356","vm":0.4,"k":"u"},
{"d":"2023-003","vm":0.5,"k":"d"},{"d":"2023-018","vm":0.25,"k":"f"},{"d":"2023-030","vm":1.1,"k":"d"},{"d":"2023-034","vm":0.75,"k":"d"},{"d":"2023-038","vm":0.75,"k":"u"},{"d":"2023-049","vm":0.1,"k":"f"},{"d":"2023-065","vm":0.9,"k":"d"},{"d":"2023-077","vm":0.6,"k":"u"},{"d":"2023-084","vm":0.25,"k":"d"},{"d":"2023-092","vm":0.6,"k":"u"},{"d":"2023-104","vm":0.1,"k":"f"},{"d":"2023-120","vm":0.1,"k":"f"},{"d":"2023-135","vm":0.25,"k":"f"},{"d":"2023-155","vm":0.1,"k":"d"},{"d":"2023-170","vm":0.1,"k":"d"},{"d":"2023-186","vm":0.5,"k":"u"},{"d":"2023-194","vm":0.5,"k":"u"},{"d":"2023-201","vm":0.25,"k":"d"},{"d":"2023-211","vm":1.1,"k":"u"},{"d":"2023-221","vm":0.25,"k":"d"},{"d":"2023-229","vm":0.25,"k":"u"},{"d":"2023-240","vm":0.1,"k":"f"},{"d":"2023-255","vm":0.5,"k":"u"},{"d":"2023-264","vm":0.1,"k":"d"},{"d":"2023-276","vm":0.1,"k":"d"},{"d":"2023-283","vm":0.5,"k":"u"},{"d":"2023-295","vm":0.5,"k":"u"},{"d":"2023-303","vm":0.75,"k":"d"},{"d":"2023-307","vm":1.1,"k":"d"},{"d":"2023-311","vm":16.5,"k":"d"},{"d":"2023-314","vm":2.05,"k":"d"},{"d":"2023-318","vm":1.1,"k":"u"},{"d":"2023-322","vm":0.6,"k":"d"},{"d":"2023-328","vm":1.5,"k":"u"},{"d":"2023-331","vm":0.9,"k":"u"},{"d":"2023-336","vm":0.25,"k":"d"},{"d":"2023-342","vm":0.1,"k":"f"},{"d":"2023-347","vm":4.0,"k":"d"},{"d":"2023-351","vm":5.5,"k":"d"},{"d":"2023-355","vm":1.8,"k":"f"},{"d":"2023-361","vm":0.9,"k":"f"},
{"d":"2024-003","vm":0.25,"k":"d"},{"d":"2024-008","vm":2.45,"k":"u"},{"d":"2024-014","vm":2.25,"k":"d"},{"d":"2024-018","vm":0.5,"k":"f"},{"d":"2024-023","vm":0.75,"k":"d"},{"d":"2024-028","vm":1.5,"k":"f"},{"d":"2024-034","vm":0.1,"k":"d"},{"d":"2024-040","vm":0.25,"k":"u"},{"d":"2024-052","vm":0.1,"k":"d"},{"d":"2024-062","vm":0.9,"k":"u"},{"d":"2024-067","vm":2.45,"k":"f"},{"d":"2024-074","vm":2.8,"k":"d"},{"d":"2024-079","vm":1.1,"k":"d"},{"d":"2024-083","vm":0.6,"k":"f"},{"d":"2024-091","vm":4.35,"k":"u"},{"d":"2024-096","vm":0.6,"k":"d"},{"d":"2024-102","vm":2.05,"k":"u"},{"d":"2024-106","vm":0.25,"k":"d"},{"d":"2024-118","vm":0.1,"k":"u"},{"d":"2024-124","vm":0.5,"k":"d"},{"d":"2024-127","vm":0.82,"k":"f"}
]},
"mark":{"type":"bar","width":2},
"encoding":{
"x":{"field":"d","type":"temporal","scale":{"domain":[{"year":2019,"month":5,"date":7},{"year":2024,"month":5,"date":10}]},"axis":{"orient":"bottom","labels":false,"ticks":false,"domain":false,"grid":true,"title":null,"tickCount":{"interval":"year","step":1}}},
"y":{"field":"vm","type":"quantitative","scale":{"domain":[0,20.2],"nice":false},"axis":{"orient":"right","values":[5,10,15],"tickCount":10,"labelExpr":"format(datum.value,'.1f') + ' M'","labelOverlap":false,"grid":true,"title":null,"labelPadding":5}},
"color":{"field":"k","type":"nominal","scale":{"domain":["u","d","f"],"range":["#4cb84c","#ff0000","#a8a8a8"]},"legend":null}}},
{"data":{"values":[{"label":"Volume"}]},
"mark":{"type":"text","align":"left","baseline":"middle","fontSize":12,"color":"#000033","font":"Liberation Sans"},
"encoding":{"x":{"datum":{"year":2019,"month":5,"date":25},"type":"temporal"},"y":{"datum":17.8,"type":"quantitative"},"text":{"field":"label","type":"nominal"}}}
]
},
{
"width":781,"height":29,
"layer":[
{"data":{"format":{"parse":{"d":"date:'%Y-%j'"}},"values":[{"d":"2020-001"},{"d":"2021-001"},{"d":"2022-001"},{"d":"2023-001"},{"d":"2024-001"}]},
"mark":{"type":"rule","color":"#000000","strokeWidth":1},
"encoding":{"x":{"field":"d","type":"temporal","scale":{"domain":[{"year":2019,"month":5,"date":7},{"year":2024,"month":5,"date":10}]},"axis":null},"y":{"datum":0,"type":"quantitative","scale":{"domain":[0,2]},"axis":null},"y2":{"datum":2}}},
{"data":{"values":[{"a":1}]},
"mark":{"type":"rule","color":"#000000","strokeWidth":2},
"encoding":{"y":{"datum":1,"type":"quantitative","axis":null}}},
{"data":{"format":{"parse":{"d":"date:'%Y-%j'"}},"values":[{"d":"2019-246","y":"2019"},{"d":"2020-184","y":"2020"},{"d":"2021-183","y":"2021"},{"d":"2022-183","y":"2022"},{"d":"2023-183","y":"2023"},{"d":"2024-066","y":"2024"}]},
"mark":{"type":"text","fontSize":12,"color":"#000000","baseline":"middle","align":"center","font":"Liberation Sans"},
"encoding":{"x":{"field":"d","type":"temporal","axis":null},"y":{"datum":0.5,"type":"quantitative","axis":null},"text":{"field":"y","type":"nominal"}}}
]
}
],
"config":{
"view":{"stroke":"#000000","strokeWidth":2},
"axis":{"labelFont":"Liberation Sans","labelFontSize":12,"labelColor":"#000033","gridColor":"#c8c8c8","gridWidth":1,"ticks":false,"domain":false},
"text":{"font":"Liberation Sans"}
}
}
